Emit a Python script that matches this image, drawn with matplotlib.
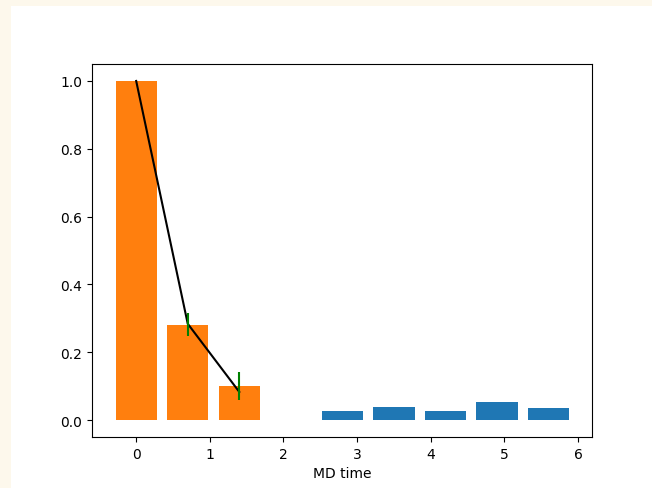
import matplotlib
matplotlib.use("Agg")
import matplotlib.pyplot as plt
from matplotlib.patches import Rectangle

# Data
orange_x = [0.0, 0.7, 1.4]
orange_h = [1.0, 0.28, 0.10]
blue_x = [2.8, 3.5, 4.2, 4.9, 5.6]
blue_h = [0.026, 0.038, 0.026, 0.053, 0.035]
line_x = [0.0, 0.7, 1.4]
line_y = [1.0, 0.284, 0.083]
err_x = [0.7, 1.4]
err_y = [0.282, 0.10]
err_e = [0.034, 0.041]
xlabel = "MD time"

W, H = 652, 489
fig = plt.figure(figsize=(W / 100, H / 100), dpi=100)
fig.patch.set_facecolor("#fdf8ec")
fig.patches.append(Rectangle((11 / W, 0), 1 - 11 / W, 1 - 7 / H,
                             transform=fig.transFigure, facecolor="white",
                             edgecolor="none", zorder=-10))

left, right, top, bottom = 92, 592, 65, 438
ax = fig.add_axes([left / W, 1 - bottom / H, (right - left) / W, (bottom - top) / H])
ax.set_zorder(1)

ax.bar(blue_x, blue_h, width=0.56, color="#1f77b4")
ax.bar(orange_x, orange_h, width=0.56, color="#ff7f0e")
ax.plot(line_x, line_y, color="black", lw=1.5)
ax.errorbar(err_x, err_y, yerr=err_e, fmt="none", ecolor="green", elinewidth=1.5)

ax.set_xlim(-0.6, 6.19)
ax.set_ylim(-0.05, 1.05)
ax.set_xticks([0, 1, 2, 3, 4, 5, 6])
ax.set_yticks([0.0, 0.2, 0.4, 0.6, 0.8, 1.0])
ax.set_xlabel(xlabel)

fig.savefig("out.png", dpi=100)
